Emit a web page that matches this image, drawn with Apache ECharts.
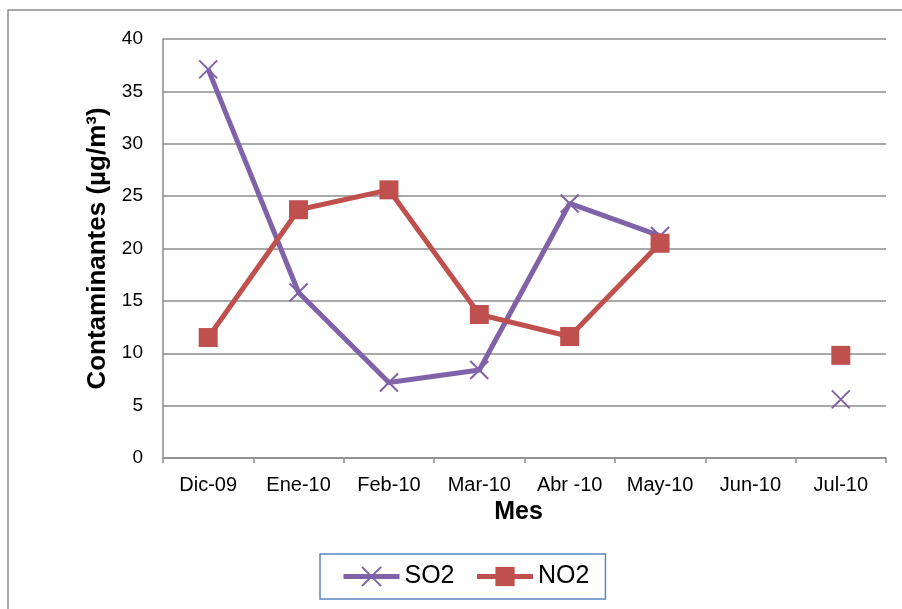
<!DOCTYPE html>
<html>
<head>
<meta charset="utf-8">
<script src="https://cdn.jsdelivr.net/npm/echarts@6/dist/echarts.min.js"></script>
<style>
  html, body { margin: 0; padding: 0; background: #fff; }
  #chart { width: 902px; height: 609px; }
</style>
</head>
<body>
<div id="chart"></div>
<script>
// Monthly pollutant concentrations (µg/m³)
const months = ['Dic-09', 'Ene-10', 'Feb-10', 'Mar-10', 'Abr -10', 'May-10', 'Jun-10', 'Jul-10'];
const so2 = [37.1, 15.8, 7.2, 8.4, 24.3, 21.2, null, 5.6];
const no2 = [11.5, 23.7, 25.6, 13.7, 11.6, 20.5, null, 9.8];
const yTicks = { min: 0, max: 40, step: 5 };

const purple = '#7f62a8';
const red = '#c0504d';
const crossPath = 'path://M0,0L10,10M10,0L0,10';

const chart = echarts.init(document.getElementById('chart'));
chart.setOption({
  animation: false,
  backgroundColor: '#fff',
  textStyle: { fontFamily: 'Liberation Sans, Arial, sans-serif', color: '#000' },
  graphic: [{
    type: 'rect',
    shape: { x: 8, y: 10, width: 920, height: 620 },
    style: { fill: 'none', stroke: '#8c8c8c', lineWidth: 1.5 },
    silent: true
  }],
  grid: { left: 163, top: 39, right: 16, bottom: 151, containLabel: false },
  legend: {
    left: 320,
    top: 554,
    padding: [10, 16, 10, 21],
    borderColor: '#5b87c5',
    borderWidth: 1.5,
    itemWidth: 56,
    itemHeight: 24,
    itemGap: 20,
    lineStyle: { width: 5 },
    textStyle: { fontSize: 25, color: '#000', padding: [3, 0, 0, 0] },
    data: ['SO2', 'NO2']
  },
  xAxis: {
    type: 'category',
    data: months,
    name: 'Mes',
    nameLocation: 'middle',
    nameGap: 38,
    nameTextStyle: { fontSize: 25, fontWeight: 'bold', color: '#000', padding: [0, 12, 0, 0] },
    axisLine: { lineStyle: { color: '#8c8c8c', width: 1.5 } },
    axisTick: { show: true, length: 5, lineStyle: { color: '#8c8c8c', width: 1.5 } },
    axisLabel: { fontSize: 20, color: '#000', margin: 17 },
    splitLine: { show: false }
  },
  yAxis: {
    type: 'value',
    min: yTicks.min,
    max: yTicks.max,
    interval: yTicks.step,
    name: 'Contaminantes (µg/m³)',
    nameLocation: 'middle',
    nameGap: 50,
    nameTextStyle: { fontSize: 26, fontWeight: 'bold', color: '#000' },
    axisLine: { show: true, lineStyle: { color: '#8c8c8c', width: 1.5 } },
    axisTick: { show: false },
    axisLabel: { fontSize: 19, color: '#000', margin: 20 },
    splitLine: { lineStyle: { color: '#8c8c8c', width: 1.5 } }
  },
  series: [
    {
      name: 'SO2',
      type: 'line',
      data: so2,
      connectNulls: false,
      symbol: crossPath,
      symbolSize: 18,
      showAllSymbol: true,
      lineStyle: { color: purple, width: 5 },
      itemStyle: { color: 'rgba(0,0,0,0)', borderColor: purple, borderWidth: 2 },
      z: 2
    },
    {
      name: 'NO2',
      type: 'line',
      data: no2,
      connectNulls: false,
      symbol: 'rect',
      symbolSize: 19,
      showAllSymbol: true,
      lineStyle: { color: red, width: 5 },
      itemStyle: { color: red },
      z: 3
    }
  ]
});
</script>
</body>
</html>
